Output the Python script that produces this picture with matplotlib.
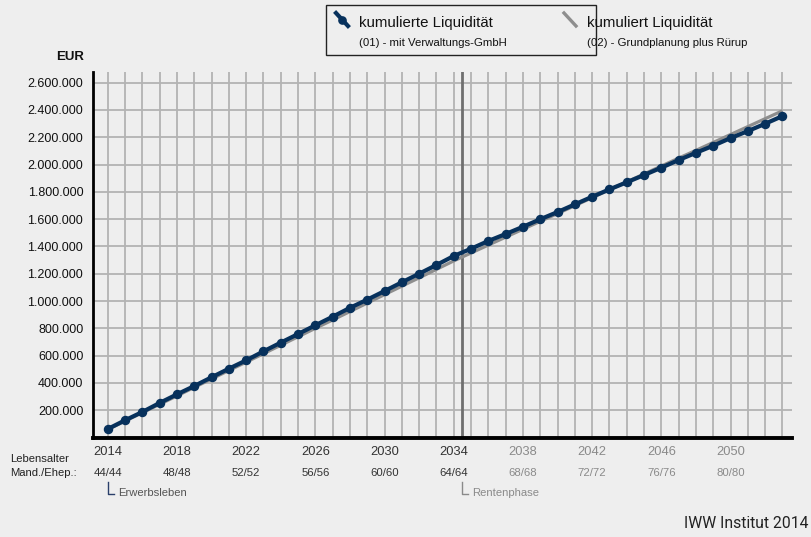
import matplotlib
matplotlib.use("Agg")
import matplotlib.pyplot as plt
from matplotlib.lines import Line2D
from matplotlib.patches import Rectangle
import matplotlib.transforms as mtransforms

# ---------------- data ----------------
years = list(range(2014, 2054))
liq_gmbh = [62, 126, 187, 253, 316, 377, 441, 504, 565, 631,
            695, 758, 822, 885, 950, 1010, 1073, 1137, 1200, 1264,
            1330, 1383, 1440, 1491, 1544, 1599, 1652, 1708, 1764, 1818,
            1870, 1923, 1977, 2033, 2086, 2138, 2194, 2245, 2299, 2355]  # thousand EUR
liq_ruerup = [58, 120, 182, 243, 305, 367, 429, 491, 552, 614,
              676, 738, 800, 861, 923, 985, 1047, 1109, 1170, 1232,
              1294, 1352, 1410, 1468, 1526, 1584, 1641, 1699, 1757, 1815,
              1873, 1931, 1989, 2047, 2104, 2162, 2220, 2278, 2336, 2394]  # thousand EUR
tick_years = [2014, 2018, 2022, 2026, 2030, 2034, 2038, 2042, 2046, 2050]
age_labels = ["44/44", "48/48", "52/52", "56/56", "60/60", "64/64",
              "68/68", "72/72", "76/76", "80/80"]
y_ticks = [200, 400, 600, 800, 1000, 1200, 1400, 1600, 1800, 2000, 2200, 2400, 2600]
y_labels = ["200.000", "400.000", "600.000", "800.000", "1.000.000", "1.200.000",
            "1.400.000", "1.600.000", "1.800.000", "2.000.000", "2.200.000",
            "2.400.000", "2.600.000"]
phase_break = 2034.5
series_names = ["kumulierte Liquidität", "kumuliert Liquidität"]
series_subs = ["(01) - mit Verwaltungs-GmbH", "(02) - Grundplanung plus Rürup"]

# ---------------- style ----------------
plt.rcParams['font.family'] = ['Liberation Sans', 'DejaVu Sans']
BG = "#eeeeee"
BLUE = "#07315c"
GRAY = "#8e8e8e"
GRID = "#b3b3b3"
DARKTXT = "#333333"
LIGHTTXT = "#8a8a8a"

W, H = 811, 537
fig = plt.figure(figsize=(W / 100, H / 100), dpi=100, facecolor=BG)

def fx(px):
    return px / W

def fy(py):
    return 1 - py / H

ax_left, ax_right, ax_top, ax_bottom = 93, 792, 72, 437.5
ax = fig.add_axes([fx(ax_left), fy(ax_bottom), fx(ax_right - ax_left), (ax_bottom - ax_top) / H])
ax.set_facecolor(BG)
ax.set_xlim(2013.15, 2053.55)
ax.set_ylim(0, 2678)

# grid
for yv in y_ticks:
    ax.axhline(yv, color=GRID, lw=1.3, zorder=1)
for xv in years:
    ax.axvline(xv, color=GRID, lw=1.3, zorder=1)
ax.axvline(phase_break, color="#6f6f6f", lw=2.0, zorder=2)

# series
ax.plot(years, liq_ruerup, color=GRAY, lw=2.3, zorder=3, solid_capstyle='butt')
ax.plot(years, liq_gmbh, color=BLUE, lw=3.0, marker='o', markersize=5.8,
        markerfacecolor=BLUE, markeredgecolor=BLUE, zorder=4)

# spines
for s in ["top", "right"]:
    ax.spines[s].set_visible(False)
ax.spines["left"].set_linewidth(2.0)
ax.spines["left"].set_color("black")
ax.spines["bottom"].set_linewidth(2.8)
ax.spines["bottom"].set_color("black")

ax.set_yticks(y_ticks)
ax.set_yticklabels(y_labels, fontsize=9, color="#111111")
ax.tick_params(axis='y', length=0, pad=7)
ax.set_xticks([])

# EUR label
fig.text(fx(84), fy(57), "EUR", ha='right', va='center', fontsize=9.5,
         fontweight='bold', color="#111111")

# x labels (years and ages)
trans = mtransforms.blended_transform_factory(ax.transData, fig.transFigure)
for yr, age in zip(tick_years, age_labels):
    col = DARKTXT if yr < phase_break else LIGHTTXT
    ax.text(yr, fy(452), str(yr), transform=trans, ha='center', va='center',
            fontsize=9.3, color=col, clip_on=False)
    ax.text(yr, fy(473.5), age, transform=trans, ha='center', va='center',
            fontsize=8.2, color=col, clip_on=False)

fig.text(fx(10), fy(459.5), "Lebensalter", ha='left', va='center', fontsize=8.1, color="#222222")
fig.text(fx(10), fy(473.5), "Mand./Ehep.:", ha='left', va='center', fontsize=8.1, color="#222222")

# phase brackets
def bracket(xdata, color, text, tcol):
    x0 = ax.transData.transform((xdata, 0))[0]
    fig.add_artist(Line2D([fx(x0), fx(x0), fx(x0 + 6)], [fy(481.5), fy(494), fy(494)],
                          transform=fig.transFigure, color=color, lw=1.0))
    fig.text(fx(x0 + 10), fy(492.5), text, ha='left', va='center', fontsize=8.1, color=tcol)

bracket(2014, "#2a3f6a", "Erwerbsleben", "#555555")
bracket(phase_break, "#8a8a8a", "Rentenphase", "#8a8a8a")

# legend box
fig.add_artist(Rectangle((fx(325.5), fy(55)), fx(596 - 325.5), (55 - 4.5) / H,
                         transform=fig.transFigure, facecolor=BG, edgecolor="#222222",
                         lw=1.0))
# icon 1
fig.add_artist(Line2D([fx(336), fx(348)], [fy(13), fy(26)], transform=fig.transFigure,
                      color=BLUE, lw=3.0))
fig.add_artist(Line2D([fx(342)], [fy(19.5)], transform=fig.transFigure, color=BLUE,
                      marker='o', markersize=5.2, lw=0))
fig.text(fx(359), fy(22.5), series_names[0], ha='left', va='center', fontsize=10.8, color="#111111")
fig.text(fx(359), fy(42.5), series_subs[0], ha='left', va='center', fontsize=8.2, color="#111111")
# icon 2
fig.add_artist(Line2D([fx(564), fx(576)], [fy(13), fy(26)], transform=fig.transFigure,
                      color=GRAY, lw=2.4))
fig.text(fx(587), fy(22.5), series_names[1], ha='left', va='center', fontsize=10.8, color="#111111")
fig.text(fx(587), fy(42.5), series_subs[1], ha='left', va='center', fontsize=8.2, color="#111111")

# source
fig.text(fx(809), fy(523), "IWW Institut 2014", ha='right', va='center', fontsize=11.3,
         color="#222222", family=['Roboto', 'DejaVu Sans'])

fig.savefig("out.png", dpi=100, facecolor=BG)
